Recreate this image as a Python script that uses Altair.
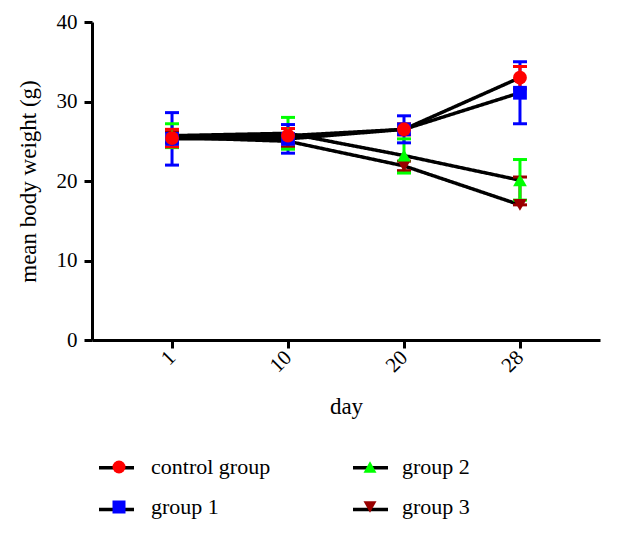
import altair as alt
import pandas as pd

groups = ["control group", "group 1", "group 2", "group 3"]
days = ["1", "10", "20", "28"]

control_mean = [25.4, 25.7, 26.5, 33.0]
control_lo = [24.3, 24.8, 25.8, 31.6]
control_hi = [26.5, 26.6, 27.2, 34.4]

group1_mean = [25.3, 25.3, 26.5, 31.1]
group1_lo = [22.0, 23.5, 24.8, 27.2]
group1_hi = [28.6, 27.1, 28.2, 35.0]

group2_mean = [25.7, 26.0, 23.2, 20.1]
group2_lo = [24.2, 24.0, 21.0, 17.6]
group2_hi = [27.2, 28.0, 25.3, 22.7]

group3_mean = [25.5, 25.0, 21.9, 17.0]
group3_lo = [24.8, 24.3, 21.3, 17.0]
group3_hi = [26.2, 25.7, 22.5, 20.5]

colors = ["#FF0000", "#0000FF", "#00FF00", "#990000"]
shapes = ["circle", "square", "triangle-up", "triangle-down"]
legend_order = ["control group", "group 2", "group 1", "group 3"]

series = {
    "control group": (control_mean, control_lo, control_hi),
    "group 1": (group1_mean, group1_lo, group1_hi),
    "group 2": (group2_mean, group2_lo, group2_hi),
    "group 3": (group3_mean, group3_lo, group3_hi),
}

rows = []
for g in ["group 3", "group 2", "group 1", "control group"]:
    m, lo, hi = series[g]
    for d, mv, lv, hv in zip(days, m, lo, hi):
        rows.append({"group": g, "lgroup": "L:" + g, "day": d, "mean": mv, "lo": lv, "hi": hv})
df = pd.DataFrame(rows)

FONT = "Liberation Serif"

x = alt.X("day:O", sort=days, title="day",
          scale=alt.Scale(type="point", padding=0.69),
          axis=alt.Axis(labelAngle=-45, labelAlign="right", labelBaseline="middle",
                        labelPadding=6, titlePadding=20))
y = alt.Y("mean:Q", title="mean body weight (g)",
          scale=alt.Scale(domain=[0, 40]),
          axis=alt.Axis(values=[0, 10, 20, 30, 40], titlePadding=16, labelPadding=7))

marker_legend = dict(orient="none", legendX=16, legendY=434, columns=2,
                     title=None, symbolSize=169, symbolStrokeWidth=0,
                     labelFont=FONT, labelFontSize=22, labelColor="black",
                     labelOffset=21, columnPadding=88, rowPadding=18, zindex=2)

color = alt.Color("group:N", scale=alt.Scale(domain=groups, range=colors),
                  sort=legend_order, legend=alt.Legend(**marker_legend))
shape = alt.Shape("group:N", scale=alt.Scale(domain=groups, range=shapes),
                  sort=legend_order, legend=alt.Legend(**marker_legend))

line_groups = ["L:" + g for g in legend_order]
lines = alt.Chart(df).mark_line(color="black", strokeWidth=3.5).encode(
    x=x, y=y,
    strokeDash=alt.StrokeDash("lgroup:N",
                              scale=alt.Scale(domain=line_groups, range=[[1, 0]] * 4),
                              legend=alt.Legend(orient="none", legendX=5, legendY=426, columns=2,
                                                title=None, symbolType="stroke", symbolSize=1225,
                                                symbolStrokeColor="black", symbolStrokeWidth=3.5,
                                                labelExpr="''", labelFontSize=1,
                                                labelOffset=0, columnPadding=205, rowPadding=15,
                                                zindex=1)),
)

bars = alt.Chart(df).mark_rule(strokeWidth=3).encode(
    x=x, y=alt.Y("lo:Q"), y2="hi:Q", color=color)
caps_lo = alt.Chart(df).mark_tick(size=14, thickness=3, opacity=1).encode(
    x=x, y=alt.Y("lo:Q"), color=color)
caps_hi = alt.Chart(df).mark_tick(size=14, thickness=3, opacity=1).encode(
    x=x, y=alt.Y("hi:Q"), color=color)
points = alt.Chart(df).mark_point(filled=True, opacity=1, size=190).encode(
    x=x, y=y, color=color, shape=shape)

chart = alt.layer(lines, bars, caps_lo, caps_hi, points).properties(
    width=508, height=318,
    autosize=alt.AutoSizeParams(type="none"),
    padding={"left": 84, "top": 14, "right": 13, "bottom": 185},
).configure_view(stroke=None).configure_axis(
    domainColor="black", domainWidth=3, tickColor="black", tickWidth=3, tickSize=8,
    labelFont=FONT, labelFontSize=21, labelColor="black",
    titleFont=FONT, titleFontSize=23, titleFontWeight="normal", titleColor="black",
    grid=False,
)

chart.save("out.html", embed_options={"renderer": "svg", "actions": False})
